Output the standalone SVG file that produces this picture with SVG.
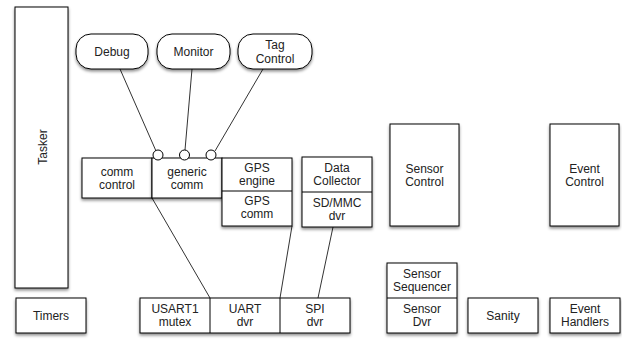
<svg xmlns="http://www.w3.org/2000/svg" width="622" height="339" viewBox="0 0 622 339">
<defs>
<filter id="sh" x="-20%" y="-20%" width="140%" height="140%">
<feDropShadow dx="0" dy="2" stdDeviation="1.5" flood-color="#000" flood-opacity="0.45"/>
</filter>
</defs>
<style>
.b{fill:#fff;stroke:#000;stroke-width:1}
.s{filter:url(#sh)}
text{font-family:"Liberation Sans",Arial,sans-serif;font-size:12px;fill:#222;text-anchor:middle}
.c{stroke:#333;stroke-width:1;fill:none}
</style>
<rect width="622" height="339" fill="#fff"/>
<g id="connectors">
<line class="c" x1="120" y1="69" x2="156" y2="151"/>
<line class="c" x1="192" y1="69" x2="185" y2="150"/>
<line class="c" x1="263" y1="69" x2="215" y2="151"/>
<line class="c" x1="152" y1="198" x2="210" y2="298"/>
<line class="c" x1="292" y1="226" x2="280" y2="298"/>
<line class="c" x1="333" y1="227" x2="318" y2="298"/>
</g>
<g id="tasker"><rect class="b s" x="15" y="7" width="53" height="281"/><text transform="translate(47,147) rotate(-90)" font-size="15">Tasker</text></g>
<g id="debug"><rect class="b s" x="76" y="34" width="72" height="35" rx="15"/><text x="112" y="56">Debug</text></g>
<g id="monitor"><rect class="b s" x="157" y="34" width="73" height="35" rx="15"/><text x="193.5" y="56">Monitor</text></g>
<g id="tagcontrol"><rect class="b s" x="238" y="34" width="74" height="35" rx="15"/><text x="275" y="49">Tag</text><text x="275" y="63">Control</text></g>
<g id="commcontrol"><rect class="b s" x="82" y="158" width="70" height="40"/><text x="117" y="176">comm</text><text x="117" y="189">control</text></g>
<g id="genericcomm"><rect class="b s" x="152" y="158" width="70" height="40"/><text x="187" y="176">generic</text><text x="187" y="189">comm</text></g>
<g id="ports">
<circle class="b" cx="158" cy="155" r="5"/>
<circle class="b" cx="184.5" cy="155" r="5"/>
<circle class="b" cx="211" cy="155" r="5"/>
</g>
<g id="gps"><rect class="b s" x="222" y="158" width="70" height="68"/><line class="b" x1="222" y1="191" x2="292" y2="191"/><text x="257" y="172">GPS</text><text x="257" y="185">engine</text><text x="257" y="205">GPS</text><text x="257" y="218">comm</text></g>
<g id="datacollector"><rect class="b s" x="302" y="157" width="70" height="70"/><line class="b" x1="302" y1="192" x2="372" y2="192"/><text x="337" y="172">Data</text><text x="337" y="185">Collector</text><text x="337" y="207">SD/MMC</text><text x="337" y="220">dvr</text></g>
<g id="sensorcontrol"><rect class="b s" x="390" y="124" width="69" height="102"/><text x="424.5" y="173">Sensor</text><text x="424.5" y="186">Control</text></g>
<g id="eventcontrol"><rect class="b s" x="550" y="124" width="69" height="102"/><text x="584.5" y="173">Event</text><text x="584.5" y="186">Control</text></g>
<g id="timers"><rect class="b s" x="16" y="298" width="70" height="35"/><text x="51" y="320">Timers</text></g>
<g id="uart"><rect class="b s" x="140" y="298" width="210" height="35"/><line class="b" x1="210" y1="298" x2="210" y2="333"/><line class="b" x1="280" y1="298" x2="280" y2="333"/><text x="175" y="313">USART1</text><text x="175" y="326">mutex</text><text x="245" y="313">UART</text><text x="245" y="326">dvr</text><text x="315" y="313">SPI</text><text x="315" y="326">dvr</text></g>
<g id="sensorseq"><rect class="b s" x="387" y="263" width="70" height="70"/><line class="b" x1="387" y1="298" x2="457" y2="298"/><text x="422" y="278">Sensor</text><text x="422" y="291">Sequencer</text><text x="422" y="313">Sensor</text><text x="422" y="326">Dvr</text></g>
<g id="sanity"><rect class="b s" x="468" y="298" width="70" height="35"/><text x="503" y="320">Sanity</text></g>
<g id="eventhandlers"><rect class="b s" x="550" y="298" width="70" height="35"/><text x="585" y="313">Event</text><text x="585" y="326">Handlers</text></g>
</svg>
